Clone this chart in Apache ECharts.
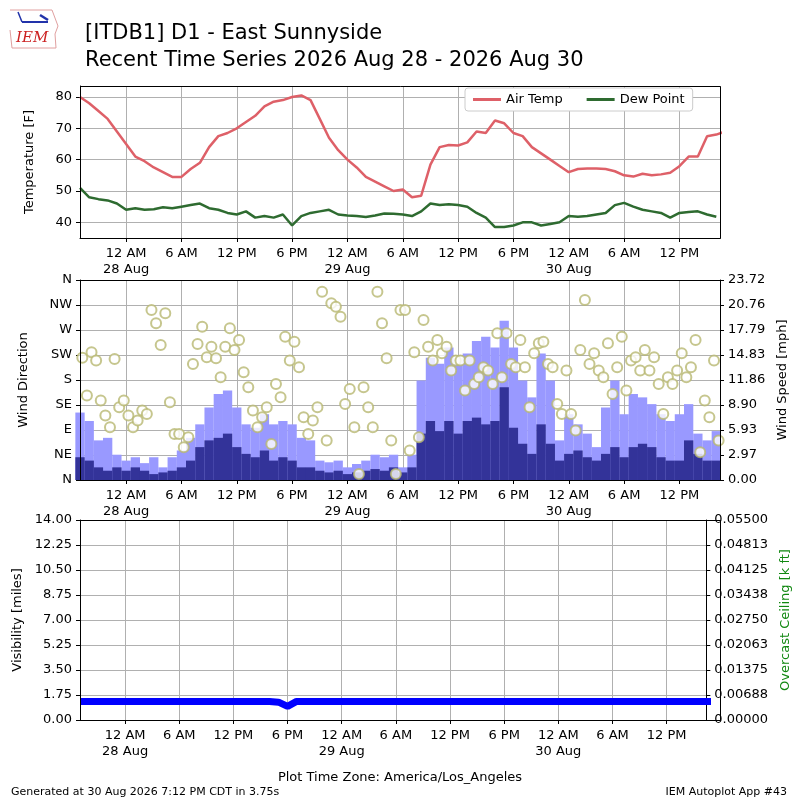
<!DOCTYPE html>
<html>
<head>
<meta charset="utf-8">
<script src="https://cdn.jsdelivr.net/npm/echarts@6/dist/echarts.min.js"></script>
<style>body{margin:0;background:#fff}#chart{width:800px;height:800px}</style>
</head>
<body>
<div id="chart"></div>
<script>
// hours relative to 12 AM 28 Aug (local), one value per hour from -5
var startHour = -5;
var airTemp = [80,78,75.5,73,69,65,61,59.5,57.5,56,54.5,54.5,57,59,64,67.5,68.5,70,72,74,77,78.5,79,80,80.5,79,73,67,63,60,57.5,54.5,53,51.5,50,50.5,48,
  48.5,58.4,64,64.7,64.5,65.5,69,68.5,72.5,71.6,68.5,67.5,64,62,60,58,56,57,57.2,57.2,57,56.3,55,54.6,55.5,55,55.3,55.8,57.9,61,61,67.5,68,69];
var dewPoint = [51,48,47.4,47,46,44,44.5,44,44.2,44.8,44.5,45,45.5,46,44.5,44,43,42.5,43.5,41.5,42,41.5,42.5,39,42,43,43.5,44,42.5,42.2,42,41.7,42.2,42.8,42.7,42.5,
  42,43.5,46,45.5,45.8,45.5,45,43,41.5,38.5,38.5,39,40,40,39,39.5,40,42,41.8,42,42.5,43,45.5,46.2,45,44,43.5,43,41.5,43,43.3,43.5,42.5,41.8];
var windGust = [8,7,4.7,5,3,2.3,2.7,2,2.7,1.5,2.7,3.5,5,6.6,8.6,10.2,10.6,8.6,6.6,6.2,7.8,6.6,7,6.6,5,4.7,2.3,2.1,2.3,1.5,1.9,2.3,3,2.7,3,
  1.5,3,11.8,14.5,13.8,15.7,13.8,15,16.5,17,15.7,18.9,15.7,11.8,9.8,15,11.8,4.7,7.8,6.6,5.5,3.9,8.6,11.8,7.8,10.2,9.8,9,7.8,7,7.8,9,5.5,4.7,5.8];
var windSpeed = [2.7,2.3,1.5,1.1,1.5,1.1,1.5,1.1,0.7,0.9,1.1,1.5,2.3,3.9,4.7,5,5.5,3.9,3.1,2.7,3.5,2.3,2.7,2.3,1.5,1.5,1.1,0.9,1.1,0.7,0.9,1.1,1.3,1.1,1.5,
  0.9,1.5,5.5,7,5.8,7,5.5,7,7.4,6.6,7,11,6.2,4.3,3.1,6.6,4.3,2.3,3.1,3.5,2.7,2.3,3.1,3.9,2.7,3.9,4.3,3.9,2.7,2.3,2.3,4.7,3.1,2.3,2.3];
// wind direction every 30 min from -4.75
var windDir = [220,152,230,215,143,116,95,218,131,143,116,95,107,125,119,306,282,243,300,140,83,83,59,77,209,245,276,221,240,219,185,240,273,234,252,194,
  167,125,95,113,131,65,173,149,258,215,249,203,113,83,107,131,339,71,318,312,294,137,164,95,11,167,131,95,339,282,219,71,11,306,
  306,53,230,77,288,240,215,252,228,240,197,215,215,161,215,173,185,203,197,173,264,185,264,209,203,252,203,131,228,246,249,209,203,137,119,197,
  119,89,234,324,209,228,197,185,246,155,203,258,161,215,221,197,234,197,221,173,119,185,173,197,228,185,203,252,50,143,113,215,71];
var visibility = [1.3,1.3,1.3,1.3,1.3,1.3,1.3,1.3,1.3,1.3,1.3,1.3,1.3,1.3,1.3,1.3,1.3,1.3,1.3,1.3,1.3,1.3,1.25,0.95,1.3,1.3,1.3,1.3,1.3,1.3,1.3,1.3,1.3,1.3,1.3,
  1.3,1.3,1.3,1.3,1.3,1.3,1.3,1.3,1.3,1.3,1.3,1.3,1.3,1.3,1.3,1.3,1.3,1.3,1.3,1.3,1.3,1.3,1.3,1.3,1.3,1.3,1.3,1.3,1.3,1.3,1.3,1.3,1.3,1.3,1.3,1.3];
var dirLabels = ['N','NE','E','SE','S','SW','W','NW','N'];
var dayNames = {0:'28 Aug',24:'29 Aug',48:'30 Aug'};

// the time axis runs in 6-hour units so its natural ticks land on 12 AM / 6 AM / 12 PM / 6 PM
var U = 6;
function hourly(arr){ return arr.map(function(v,i){ return [(startHour+i)/U, v]; }); }
var dirPts = windDir.map(function(v,i){ return [(startHour+0.25+i*0.5)/U, v]; });

var font = 'DejaVu Sans';
var gridColor = '#b0b0b0';
var xMin = -5/U, xMax = 64.4/U;
var panels = [{top:86, height:152}, {top:280, height:200}, {top:520, height:200}];
function timeLabel(u){
    var v = Math.round(u*U);
    var h = ((v % 24) + 24) % 24;
    var s = h === 0 ? '12 AM' : h === 6 ? '6 AM' : h === 12 ? '12 PM' : '6 PM';
    if (dayNames[v] !== undefined) s += '\n' + dayNames[v];
    return s;
}
function xAx(idx){
    return {type:'value', gridIndex:idx, min:xMin, max:xMax, splitNumber:11,
        axisLine:{onZero:false,lineStyle:{color:'#000'}},
        axisTick:{lineStyle:{color:'#000'},length:4},
        axisLabel:{formatter:timeLabel, color:'#000', fontFamily:font, fontSize:13, lineHeight:16, showMinLabel:false, showMaxLabel:false},
        splitLine:{show:true, lineStyle:{color:gridColor, width:1, type:'solid'}}};
}
function yAx(idx, o){
    var base = {type:'value', gridIndex:idx, axisLine:{show:true,onZero:false,lineStyle:{color:'#000'}}, axisTick:{show:true,lineStyle:{color:'#000'},length:4},
        axisLabel:{color:'#000', fontFamily:font, fontSize:13}, splitLine:{show:true,lineStyle:{color:gridColor, width:1, type:'solid'}},
        nameLocation:'middle', nameTextStyle:{fontFamily:font, fontSize:13, color:'#000'}};
    for (var k in o) base[k] = o[k];
    return base;
}

var chart = echarts.init(document.getElementById('chart'));
var frames = panels.map(function(p){
    return {type:'rect', z:100, silent:true, shape:{x:80.5, y:p.top+0.5, width:640, height:p.height}, style:{fill:null, stroke:'#000', lineWidth:1}};
});
var option = {
    animation:false,
    backgroundColor:'#ffffff',
    title:[
        {text:'[ITDB1] D1 - East Sunnyside\nRecent Time Series 2026 Aug 28 - 2026 Aug 30', left:80, top:15,
         textStyle:{fontFamily:font, fontSize:21, fontWeight:'normal', color:'#000', lineHeight:27}},
        {text:'Plot Time Zone: America/Los_Angeles', left:'center', top:766, textStyle:{fontFamily:font, fontSize:13, fontWeight:'normal', color:'#000'}},
        {text:'Generated at 30 Aug 2026 7:12 PM CDT in 3.75s', left:6, top:782, textStyle:{fontFamily:font, fontSize:11, fontWeight:'normal', color:'#000'}},
        {text:'IEM Autoplot App #43', right:8, top:782, textStyle:{fontFamily:font, fontSize:11, fontWeight:'normal', color:'#000'}}
    ],
    graphic:[
        {type:'polyline', shape:{points:[[10,10],[52,10],[55,18],[58,26],[55,34],[56,48],[12,48],[10,30]]}, style:{fill:null, stroke:'#e0a0a0', lineWidth:1}},
        {type:'text', x:16, y:31, style:{text:'IEM', fill:'#cc2222', font:'italic 15px "DejaVu Serif"'}},
        {type:'line', shape:{x1:22,y1:22,x2:48,y2:22}, style:{stroke:'#2233aa', lineWidth:2}},
        {type:'line', shape:{x1:18,y1:12,x2:22,y2:22}, style:{stroke:'#2233aa', lineWidth:1.5}},
        {type:'line', shape:{x1:40,y1:15,x2:48,y2:20}, style:{stroke:'#2233aa', lineWidth:2.5}}
    ].concat(frames),
    legend:{data:['Air Temp','Dew Point'], left:465, top:88, itemGap:24, itemWidth:28, itemHeight:3,
        padding:[5,8], borderColor:'#ccc', borderWidth:1, borderRadius:3, backgroundColor:'#fff',
        textStyle:{fontFamily:font, fontSize:13, color:'#000'}, icon:'rect'},
    grid:panels.map(function(p){ return {left:80, right:80, top:p.top, height:p.height, containLabel:false}; }),
    xAxis:[xAx(0), xAx(1), xAx(2)],
    yAxis:[
        yAx(0, {min:35, max:83.5, splitNumber:5, name:'Temperature [F]', nameGap:44,
            axisLabel:{color:'#000', fontFamily:font, fontSize:13, showMinLabel:false, showMaxLabel:false}}),
        yAx(1, {min:0, max:360, interval:45, name:'Wind Direction', nameGap:50,
            axisLabel:{color:'#000', fontFamily:font, fontSize:13, formatter:function(v){return dirLabels[Math.round(v/45)];}}}),
        yAx(1, {min:0, max:23.72, interval:2.965, position:'right', name:'Wind Speed [mph]', nameGap:56, nameRotate:90, splitLine:{show:false},
            axisLabel:{color:'#000', fontFamily:font, fontSize:13, formatter:function(v){return (v+1e-6).toFixed(2);}}}),
        yAx(2, {min:0, max:14, interval:1.75, name:'Visibility [miles]', nameGap:48,
            axisLabel:{color:'#000', fontFamily:font, fontSize:13, formatter:function(v){return v.toFixed(2);}}}),
        yAx(2, {min:0, max:0.055, interval:0.006875, position:'right', name:'Overcast Ceiling [k ft]', nameGap:72, nameRotate:90, splitLine:{show:false},
            nameTextStyle:{fontFamily:font, fontSize:13, color:'#118811'},
            axisLabel:{color:'#000', fontFamily:font, fontSize:13, formatter:function(v){return (v+1e-9).toFixed(5);}}})
    ],
    series:[
        {name:'Air Temp', type:'line', xAxisIndex:0, yAxisIndex:0, data:hourly(airTemp), showSymbol:false, z:3, lineStyle:{color:'#de6068', width:2.5}, itemStyle:{color:'#de6068'}},
        {name:'Dew Point', type:'line', xAxisIndex:0, yAxisIndex:0, data:hourly(dewPoint), showSymbol:false, z:3, lineStyle:{color:'#2e6b30', width:2.5}, itemStyle:{color:'#2e6b30'}},
        {name:'Gust', type:'bar', xAxisIndex:1, yAxisIndex:2, data:hourly(windGust), barWidth:9.3, barGap:'-100%', z:2, itemStyle:{color:'#9999ff'}},
        {name:'Speed', type:'bar', xAxisIndex:1, yAxisIndex:2, data:hourly(windSpeed), barWidth:9.3, barGap:'-100%', z:2, itemStyle:{color:'#333399'}},
        {name:'Direction', type:'scatter', xAxisIndex:1, yAxisIndex:1, data:dirPts, symbol:'emptyCircle', symbolSize:10, z:4,
            itemStyle:{color:'#b8b872', borderColor:'#b8b872', borderWidth:2}},
        {name:'Visibility', type:'line', xAxisIndex:2, yAxisIndex:3, data:hourly(visibility), showSymbol:false, z:3, lineStyle:{color:'#0000ff', width:7}}
    ]
};
chart.setOption(option);
</script>
</body>
</html>
